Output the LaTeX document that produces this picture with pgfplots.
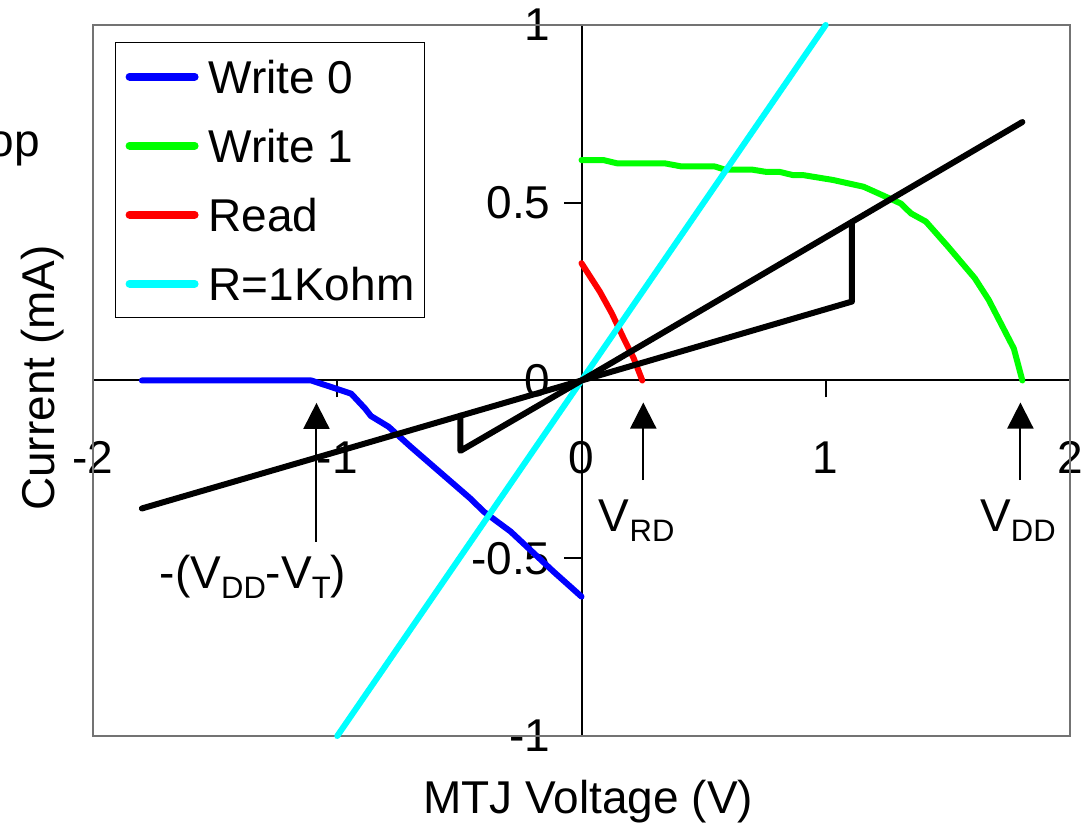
\documentclass[border=0pt]{standalone}
\usepackage{fontspec}
\setmainfont{Liberation Sans}
\usepackage{pgfplots}
\pgfplotsset{compat=1.18}
\usetikzlibrary{arrows.meta}
\definecolor{wblue}{RGB}{0,0,255}
\definecolor{wgreen}{RGB}{0,255,0}
\definecolor{wred}{RGB}{255,0,0}
\definecolor{wcyan}{RGB}{0,255,255}
\newcommand\bigf{\fontsize{23bp}{27.6bp}\selectfont}
\newcommand\subf{\fontsize{15.5bp}{18bp}\selectfont}
\begin{document}
\begin{tikzpicture}
\useasboundingbox (0,0) rectangle (543.5bp,416bp);
\node[anchor=base east, font=\bigf, inner sep=0pt] at (20bp,337.5bp) {op};
\begin{axis}[
  at={(46.5bp,48bp)}, anchor=south west,
  scale only axis, width=488.5bp, height=355.5bp,
  xmin=-2, xmax=2, ymin=-1, ymax=1,
  axis lines=middle,
  axis line style={-, line width=1bp, black},
  hide obscured x ticks=false, hide obscured y ticks=false,
  xtick={-2,-1,0,1,2}, xticklabels={-2,-1,0,1,2},
  ytick={-1,-0.5,0,0.5,1}, yticklabels={-1,-0.5,0,0.5,1},
  tick label style={font=\bigf},
  xticklabel style={anchor=base, yshift=-38bp},
  yticklabel style={anchor=east, xshift=-3.5bp},
  tick align=outside,
  major tick length=8.5bp,
  tick style={line width=1bp, black},
  clip=false,
  every axis x label/.style={at={(rel axis cs:0.507,-0.092)}, anchor=center, font=\bigf},
  every axis y label/.style={at={(rel axis cs:-0.052,0.5035)}, rotate=90, anchor=center, font=\bigf},
  xlabel={MTJ Voltage (V)},
  ylabel={Current (mA)},
  legend style={at={(rel axis cs:0.0225,0.976)}, anchor=north west, draw=black, line width=0.6bp,
    font=\bigf, row sep=17.5bp, column sep=5bp, inner xsep=5bp, inner ysep=8.5bp,
    nodes={inner sep=0pt, text height=17bp, text depth=0bp}},
  legend cell align=left,
  legend image code/.code={\draw[#1, line width=4bp, line cap=round] (0bp,0bp) -- (32.5bp,0bp);},
  every axis plot/.append style={line width=3bp, line cap=round, line join=round},
]
\draw[black!55, line width=0.6bp] (rel axis cs:0,0) rectangle (rel axis cs:1,1);
\addplot[wblue] coordinates {(-1.80,0) (-1.106,0) (-0.943,-0.037) (-0.886,-0.079) (-0.862,-0.10) (-0.79,-0.13) (-0.70,-0.186) (-0.455,-0.332) (-0.40,-0.369) (-0.29,-0.425) (-0.114,-0.538) (0,-0.608)};
\addlegendentry{Write 0}
\addplot[wgreen] coordinates {(0,0.62) (0.09,0.62) (0.145,0.611) (0.34,0.611) (0.41,0.602) (0.546,0.602) (0.588,0.593) (0.70,0.593) (0.754,0.587) (0.81,0.587) (0.864,0.578) (0.905,0.578) (1.03,0.564) (1.155,0.545) (1.307,0.498) (1.349,0.470) (1.41,0.447) (1.50,0.377) (1.61,0.288) (1.667,0.227) (1.77,0.09) (1.805,0)};
\addlegendentry{Write 1}
\addplot[wred] coordinates {(0,0.33) (0.075,0.25) (0.124,0.189) (0.173,0.118) (0.214,0.062) (0.249,0)};
\addlegendentry{Read}
\addplot[wcyan] coordinates {(-1,-1) (1,1)};
\addlegendentry{R=1Kohm}
\addplot[black, forget plot] coordinates {(-1.8,-0.36) (0,0) (1.107,0.222) (1.107,0.446) (1.805,0.727)};
\addplot[black, forget plot] coordinates {(-0.496,-0.099) (-0.496,-0.198) (0,0) (1.107,0.446)};
\draw[line width=1bp, -{Triangle[width=13bp,length=13bp]}] (axis cs:-1.085,-0.454) -- (axis cs:-1.085,-0.063);
\draw[line width=1bp, -{Triangle[width=13bp,length=13bp]}] (axis cs:0.253,-0.28) -- (axis cs:0.253,-0.062);
\draw[line width=1bp, -{Triangle[width=13bp,length=13bp]}] (axis cs:1.797,-0.28) -- (axis cs:1.797,-0.062);
\node[anchor=base west, font=\bigf, inner sep=0pt] at (axis cs:0.07,-0.425) {V\raisebox{-5bp}{\subf RD}};
\node[anchor=base west, font=\bigf, inner sep=0pt] at (axis cs:1.631,-0.425) {V\raisebox{-5bp}{\subf DD}};
\node[anchor=base west, font=\bigf, inner sep=0pt] at (axis cs:-1.728,-0.586) {-(V\raisebox{-5bp}{\subf DD}-V\raisebox{-5bp}{\subf T})};
\end{axis}
\end{tikzpicture}
\end{document}
